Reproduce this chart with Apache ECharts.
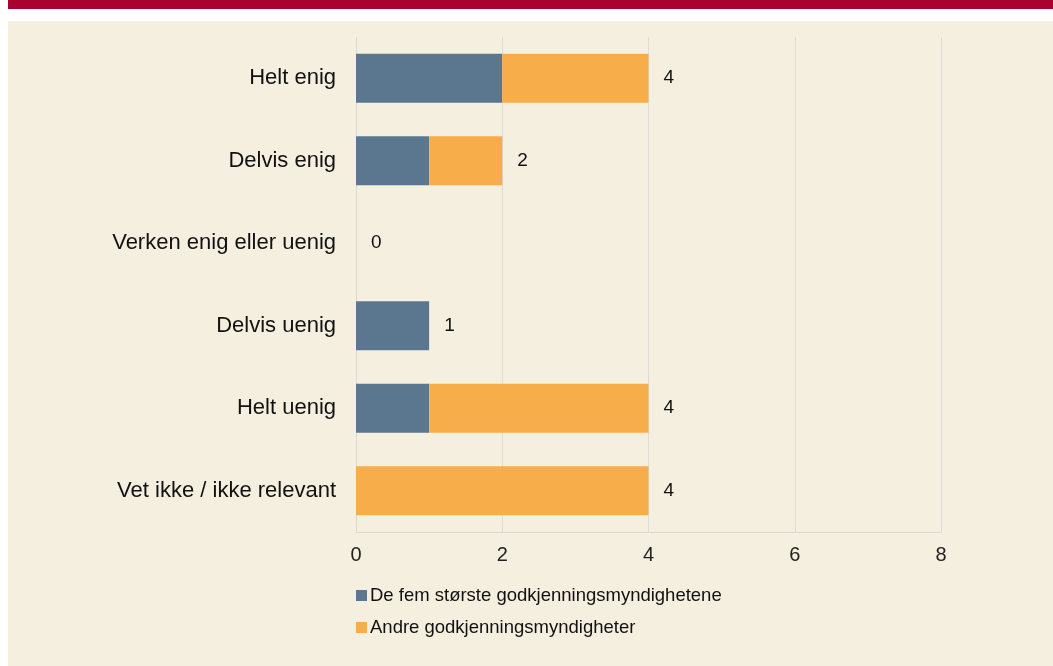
<!DOCTYPE html>
<html lang="no">
<head>
    <meta charset="UTF-8">
    <title>Godkjenningsmyndigheter</title>
    <script src="https://cdn.jsdelivr.net/npm/echarts@6/dist/echarts.min.js"></script>
    <style>
        html,body{
            margin: 0;
            height: 100%;
            background: #ffffff;
        }
        #topbar{
            position: absolute;left: 8px;top: 0;right: 0;height: 9px;
            background: #a9022f;
        }
        #main{
            position: absolute;left: 8px;top: 21px;width: 1045px;height: 645px;
            background: #f5efe0;
        }
    </style>
</head>
<body>
<div id="topbar"></div>
<div id="main"></div>
<script>
    // kategorier og verdier
    var categories = ['Helt enig', 'Delvis enig', 'Verken enig eller uenig', 'Delvis uenig', 'Helt uenig', 'Vet ikke / ikke relevant'];
    var femStorste = [2, 1, 0, 1, 1, 0];
    var andre = [2, 1, 0, 0, 3, 4];
    var xTicks = [0, 2, 4, 6, 8];

    var totals = categories.map(function (c, i) { return femStorste[i] + andre[i]; });

    var myChart = echarts.init(document.getElementById('main'));
    var font = '"Liberation Sans", Arial, sans-serif';

    var option = {
        textStyle: { fontFamily: font },
        grid: { left: 348, right: 112, top: 16, bottom: 134 },
        legend: {
            orient: 'vertical',
            left: 343,
            top: 560,
            itemWidth: 11,
            itemHeight: 11,
            itemGap: 13,
            icon: 'rect',
            data: ['De fem største godkjenningsmyndighetene', 'Andre godkjenningsmyndigheter'],
            textStyle: { fontSize: 18.5, color: '#111', padding: [0, 0, 0, -2], fontFamily: font }
        },
        xAxis: {
            type: 'value',
            min: xTicks[0],
            max: xTicks[xTicks.length - 1],
            interval: 2,
            axisLine: { show: true, lineStyle: { color: '#d9d9d9' } },
            axisTick: { show: false },
            axisLabel: { fontSize: 20, color: '#222', margin: 13, fontFamily: font },
            splitLine: { lineStyle: { color: '#dcdcdc' } }
        },
        yAxis: {
            type: 'category',
            inverse: true,
            data: categories,
            axisLine: { show: true, lineStyle: { color: '#d9d9d9' } },
            axisTick: { show: false },
            axisLabel: { fontSize: 22, color: '#111', margin: 20, fontFamily: font }
        },
        series: [
            {
                name: 'De fem største godkjenningsmyndighetene',
                type: 'bar',
                stack: 'sum',
                barWidth: 49,
                itemStyle: { color: '#5a778f' },
                data: femStorste
            },
            {
                name: 'Andre godkjenningsmyndigheter',
                type: 'bar',
                stack: 'sum',
                barWidth: 49,
                itemStyle: { color: '#f8ad4b' },
                data: andre
            },
            {
                name: 'Sum',
                type: 'bar',
                stack: 'sum',
                barWidth: 49,
                silent: true,
                itemStyle: { color: 'transparent' },
                label: {
                    show: true,
                    position: 'right',
                    distance: 15,
                    fontSize: 19,
                    color: '#111',
                    fontFamily: font,
                    formatter: function (p) { return totals[p.dataIndex]; }
                },
                data: categories.map(function () { return 0; })
            }
        ]
    };
    myChart.setOption(option);
</script>
</body>
</html>
